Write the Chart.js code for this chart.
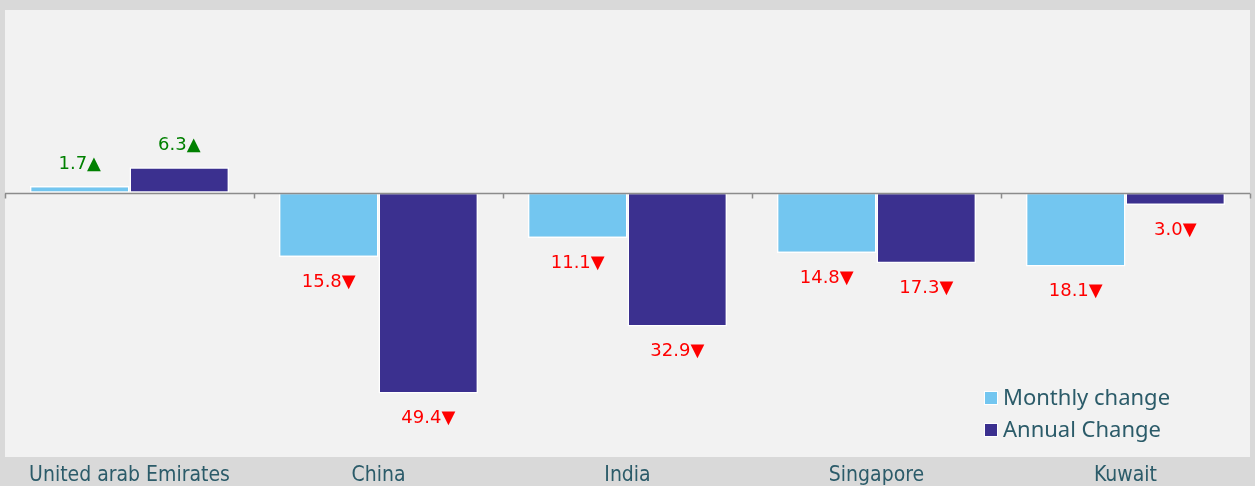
<!DOCTYPE html>
<html>
<head>
<meta charset="utf-8">
<script src="https://cdn.jsdelivr.net/npm/chart.js@4"></script>
<style>
  html, body { margin: 0; padding: 0; background: #d9d9d9; }
  #wrap { width: 1255px; height: 486px; position: relative; }
</style>
</head>
<body>
<div id="wrap"><canvas id="changeChart"></canvas></div>
<script>
// categories and series
const countries = ['United arab Emirates', 'China', 'India', 'Singapore', 'Kuwait'];
const monthlyChange = [1.7, -15.8, -11.1, -14.8, -18.1];
const annualChange = [6.3, -49.4, -32.9, -17.3, -3.0];
const seriesNames = ['Monthly change', 'Annual Change'];
const seriesColors = ['#73C6F0', '#3B308F'];

const textColor = '#2B5B69';
const catFont = '"Liberation Sans Narrow", "DejaVu Sans Condensed", sans-serif';

// panel background + zero line ticks
const panelPlugin = {
  id: 'panel',
  beforeDraw(chart) {
    const { ctx, chartArea: a } = chart;
    ctx.save();
    ctx.fillStyle = '#f2f2f2';
    ctx.fillRect(a.left, a.top, a.right - a.left, a.bottom - a.top);
    ctx.restore();
  },
  afterDatasetsDraw(chart) {
    const { ctx, chartArea: a } = chart;
    const y0 = Math.round(chart.scales.y.getPixelForValue(0)) + 0.5;
    ctx.save();
    ctx.strokeStyle = '#8c8c8c';
    ctx.lineWidth = 1.5;
    ctx.beginPath();
    ctx.moveTo(a.left, y0);
    ctx.lineTo(a.right, y0);
    const step = (a.right - a.left) / countries.length;
    for (let i = 0; i <= countries.length; i++) {
      const x = Math.round(a.left + step * i) + 0.5;
      ctx.moveTo(x, y0);
      ctx.lineTo(x, y0 + 5);
    }
    ctx.stroke();

    // value labels
    ctx.font = '18px "DejaVu Sans", sans-serif';
    ctx.textAlign = 'center';
    ctx.textBaseline = 'middle';
    chart.data.datasets.forEach((ds, di) => {
      chart.getDatasetMeta(di).data.forEach((bar, i) => {
        const v = ds.data[i];
        const up = v >= 0;
        ctx.fillStyle = up ? '#008000' : '#FF0000';
        const txt = Math.abs(v).toFixed(1) + (up ? '\u25B2' : '\u25BC');
        const y = up ? bar.y - 22 : bar.y + 25;
        ctx.fillText(txt, bar.x, y);
      });
    });

    // legend
    ctx.font = '22px "Noto Sans", sans-serif';
    ctx.textAlign = 'left';
    const lx = 985, ly = [398, 430];
    seriesNames.forEach((n, i) => {
      ctx.fillStyle = '#ffffff';
      ctx.fillRect(lx - 1, ly[i] - 7, 14, 14);
      ctx.fillStyle = seriesColors[i];
      ctx.fillRect(lx, ly[i] - 6, 12, 12);
      ctx.fillStyle = textColor;
      ctx.fillText(n, lx + 18, ly[i] + 1);
    });
    ctx.restore();
  }
};

new Chart(document.getElementById('changeChart'), {
  type: 'bar',
  data: {
    labels: countries,
    datasets: [
      { label: seriesNames[0], data: monthlyChange, backgroundColor: seriesColors[0],
        borderColor: '#ffffff', borderWidth: 1.5, borderSkipped: false,
        categoryPercentage: 0.8, barPercentage: 1.0 },
      { label: seriesNames[1], data: annualChange, backgroundColor: seriesColors[1],
        borderColor: '#ffffff', borderWidth: 1.5, borderSkipped: false,
        categoryPercentage: 0.8, barPercentage: 1.0 }
    ]
  },
  options: {
    responsive: true,
    maintainAspectRatio: false,
    animation: false,
    layout: { padding: { left: 5, right: 5, top: 10, bottom: 0 } },
    scales: {
      x: {
        grid: { display: false, drawTicks: false },
        border: { display: false },
        ticks: { color: textColor, font: { family: catFont, size: 21 }, padding: 6,
          autoSkip: false, maxRotation: 0, minRotation: 0 },
        afterFit(scale) { scale.height = 29; }
      },
      y: {
        display: false,
        min: -65,
        max: 45
      }
    },
    plugins: {
      legend: { display: false },
      tooltip: { enabled: false }
    }
  },
  plugins: [panelPlugin]
});
</script>
</body>
</html>
